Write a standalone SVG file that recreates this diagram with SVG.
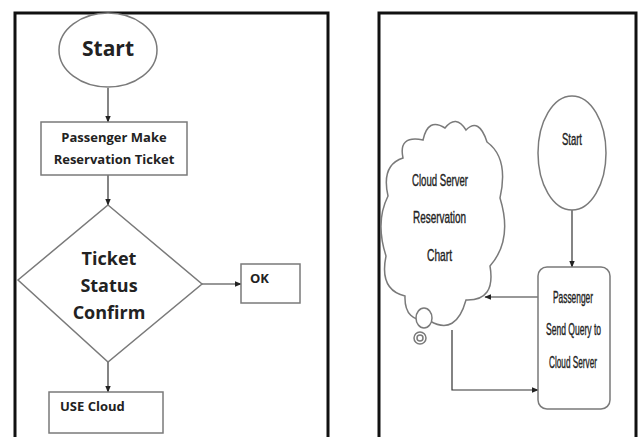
<svg xmlns="http://www.w3.org/2000/svg" width="643" height="437" viewBox="0 0 643 437">
<style>
.frame{fill:none;stroke:#111;stroke-width:3}
.shape{fill:#fff;stroke:#7a7a7a;stroke-width:1.5}
.conn{fill:none;stroke:#333;stroke-width:1.2}
.b{font-family:"Open Sans","Liberation Sans",sans-serif;font-weight:bold;fill:#222}
.n{font-family:"Liberation Sans",sans-serif;fill:#222;font-size:8.5px;stroke:#222;stroke-width:0.2}
</style>
<defs>
<marker id="ah" viewBox="0 0 10 10" refX="9" refY="5" markerWidth="7" markerHeight="7" orient="auto" markerUnits="userSpaceOnUse">
<path d="M0,1 L10,5 L0,9 Z" fill="#222"/>
</marker>
</defs>
<rect width="643" height="437" fill="#fff"/>
<g id="frames">
<rect class="frame" x="15" y="13" width="313" height="426"/>
<rect class="frame" x="379" y="13" width="257" height="426"/>
</g>
<g id="connectors">
<line class="conn" x1="108" y1="88" x2="108" y2="122" marker-end="url(#ah)"/>
<line class="conn" x1="108" y1="175" x2="108" y2="205" marker-end="url(#ah)"/>
<line class="conn" x1="202" y1="284" x2="241" y2="284" marker-end="url(#ah)"/>
<line class="conn" x1="108" y1="362" x2="108" y2="392" marker-end="url(#ah)"/>
<line class="conn" x1="572" y1="210" x2="572" y2="267" marker-end="url(#ah)"/>
<line class="conn" x1="538" y1="297" x2="485" y2="297" marker-end="url(#ah)"/>
<polyline class="conn" points="452,330 452,390 538,390" marker-end="url(#ah)"/>
</g>
<g id="start-left">
<ellipse class="shape" cx="108" cy="50" rx="49" ry="37"/>
<text class="b" x="108" y="56" font-size="21" text-anchor="middle">Start</text>
</g>
<g id="make-reservation">
<rect class="shape" x="41" y="122" width="146" height="53"/>
<text class="b" x="114" y="142" font-size="13" text-anchor="middle">Passenger Make</text>
<text class="b" x="114" y="164" font-size="13" text-anchor="middle">Reservation Ticket</text>
</g>
<g id="ticket-status">
<polygon class="shape" points="108,205 202,284 108,362 18,280"/>
<text class="b" x="109" y="265" font-size="18" text-anchor="middle">Ticket</text>
<text class="b" x="109" y="292" font-size="18" text-anchor="middle">Status</text>
<text class="b" x="109" y="319" font-size="18" text-anchor="middle">Confirm</text>
</g>
<g id="ok">
<rect class="shape" x="241" y="264" width="59" height="39"/>
<text class="b" x="250" y="283" font-size="13">OK</text>
</g>
<g id="use-cloud">
<rect class="shape" x="49" y="392" width="114" height="41"/>
<text class="b" x="60" y="411" font-size="13">USE Cloud</text>
</g>
<g id="cloud-server">
<path class="shape" d="M403,158 Q398,135 423,140 Q428,117 445,128 Q456,114 466,130 Q479,117 487,142 Q509,158 500,198 Q513,240 490,266 Q496,301 466,300 Q456,336 430,321 Q404,322 405,296 Q379,290 386,256 Q375,222 388,196 Q381,165 403,158 Z"/>
<ellipse class="shape" cx="424" cy="318" rx="8" ry="10"/>
<circle class="shape" cx="420" cy="338" r="6"/>
<circle class="shape" cx="420" cy="338" r="3"/>
<text class="n" transform="translate(412,186) scale(1,2)" textLength="56" lengthAdjust="spacingAndGlyphs">Cloud Server</text>
<text class="n" transform="translate(413,223) scale(1,2)" textLength="53" lengthAdjust="spacingAndGlyphs">Reservation</text>
<text class="n" transform="translate(427,261) scale(1,2)" textLength="25" lengthAdjust="spacingAndGlyphs">Chart</text>
</g>
<g id="start-right">
<ellipse class="shape" cx="572" cy="153" rx="34" ry="57"/>
<text class="n" transform="translate(562,145) scale(1,2)" textLength="20" lengthAdjust="spacingAndGlyphs">Start</text>
</g>
<g id="send-query">
<rect class="shape" x="538" y="267" width="72" height="142" rx="9"/>
<text class="n" transform="translate(553,303) scale(1,2)" textLength="40" lengthAdjust="spacingAndGlyphs">Passenger</text>
<text class="n" transform="translate(546,335) scale(1,2)" textLength="55" lengthAdjust="spacingAndGlyphs">Send Query to</text>
<text class="n" transform="translate(549,368) scale(1,2)" textLength="48" lengthAdjust="spacingAndGlyphs">Cloud Server</text>
</g>
</svg>
